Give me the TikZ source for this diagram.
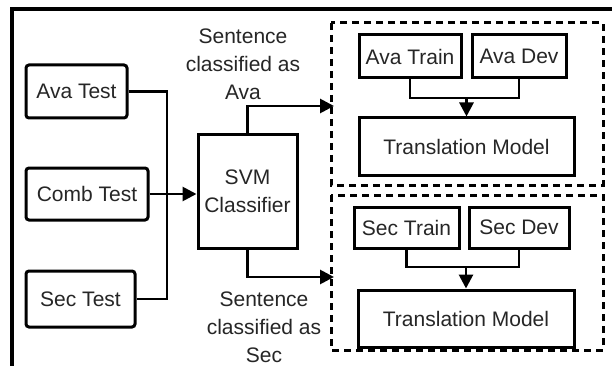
\documentclass[tikz,border=0pt]{standalone}
\usepackage{fontspec}
\setmainfont{Liberation Sans}
\usetikzlibrary{arrows.meta,calc}
\begin{document}
\begin{tikzpicture}[x=1pt,y=-1pt,
  every node/.style={font=\fontsize{21}{28}\selectfont, text=black!85, inner sep=0pt},
  box/.style={draw, line width=3pt, minimum width=#1},
  rbox/.style={box=#1, rounded corners=3pt},
  dbox/.style={draw, line width=3pt, dash pattern=on 7pt off 5pt},
  conn/.style={line width=2.8pt},
  arr/.style={conn, -{Triangle[length=14pt,width=14pt]}},
  lab/.style={align=center}
]
\useasboundingbox[fill=white] (0,0) rectangle (612,366);
% outer frame
\draw[line width=3.5pt] (12,370) -- (12,9) -- (616,9);
% inputs
\node[rbox=101, minimum height=53] (avatest) at (76.5,91.5) {Ava Test};
\node[rbox=122, minimum height=52] (combtest) at (87,194) {Comb Test};
\node[rbox=109, minimum height=56] (sectest) at (80.5,299) {Sec Test};
% classifier
\node[box=99, minimum height=113, align=center] (svm) at (247.5,191.5) {SVM\\Classifier};
% dashed groups
\draw[dbox] (331,23) rectangle (603,185);
\draw[dbox] (331,195) rectangle (603,350);
% top group
\node[box=102, minimum height=43] (avatrain) at (410,56.5) {Ava Train};
\node[box=94, minimum height=43] (avadev) at (519,56.5) {Ava Dev};
\node[box=215, minimum height=57] (tm1) at (466.5,146.5) {Translation Model};
% bottom group
\node[box=105, minimum height=41] (sectrain) at (406.5,227.5) {Sec Train};
\node[box=100, minimum height=41] (secdev) at (519,227.5) {Sec Dev};
\node[box=216, minimum height=57] (tm2) at (466,318.5) {Translation Model};
% labels
\node[lab] (lab1) at (243,64) {Sentence\\classified as\\Ava};
\node[lab] (lab2) at (264,327) {Sentence\\classified as\\Sec};
% coordinates
\coordinate (bus) at (167,193);
\coordinate (ctop) at (334,106);
\coordinate (cbot) at (334,277);
\coordinate (j1) at (466.5,98);
\coordinate (j2) at (466,267);
% connectors
\draw[conn] (avatest.east) -| (bus) |- (sectest.east);
\draw[arr] (combtest.east) -- (combtest.east -| svm.west);
\draw[arr] (svm.north) |- (ctop);
\draw[arr] (svm.south) |- (cbot);
\draw[conn] (avatrain.south) |- (j1) -| (avadev.south);
\draw[arr] (j1) -- (tm1.north);
\draw[conn] (sectrain.south) |- (j2) -| (secdev.south);
\draw[arr] (j2) -- (tm2.north);
\end{tikzpicture}
\end{document}
